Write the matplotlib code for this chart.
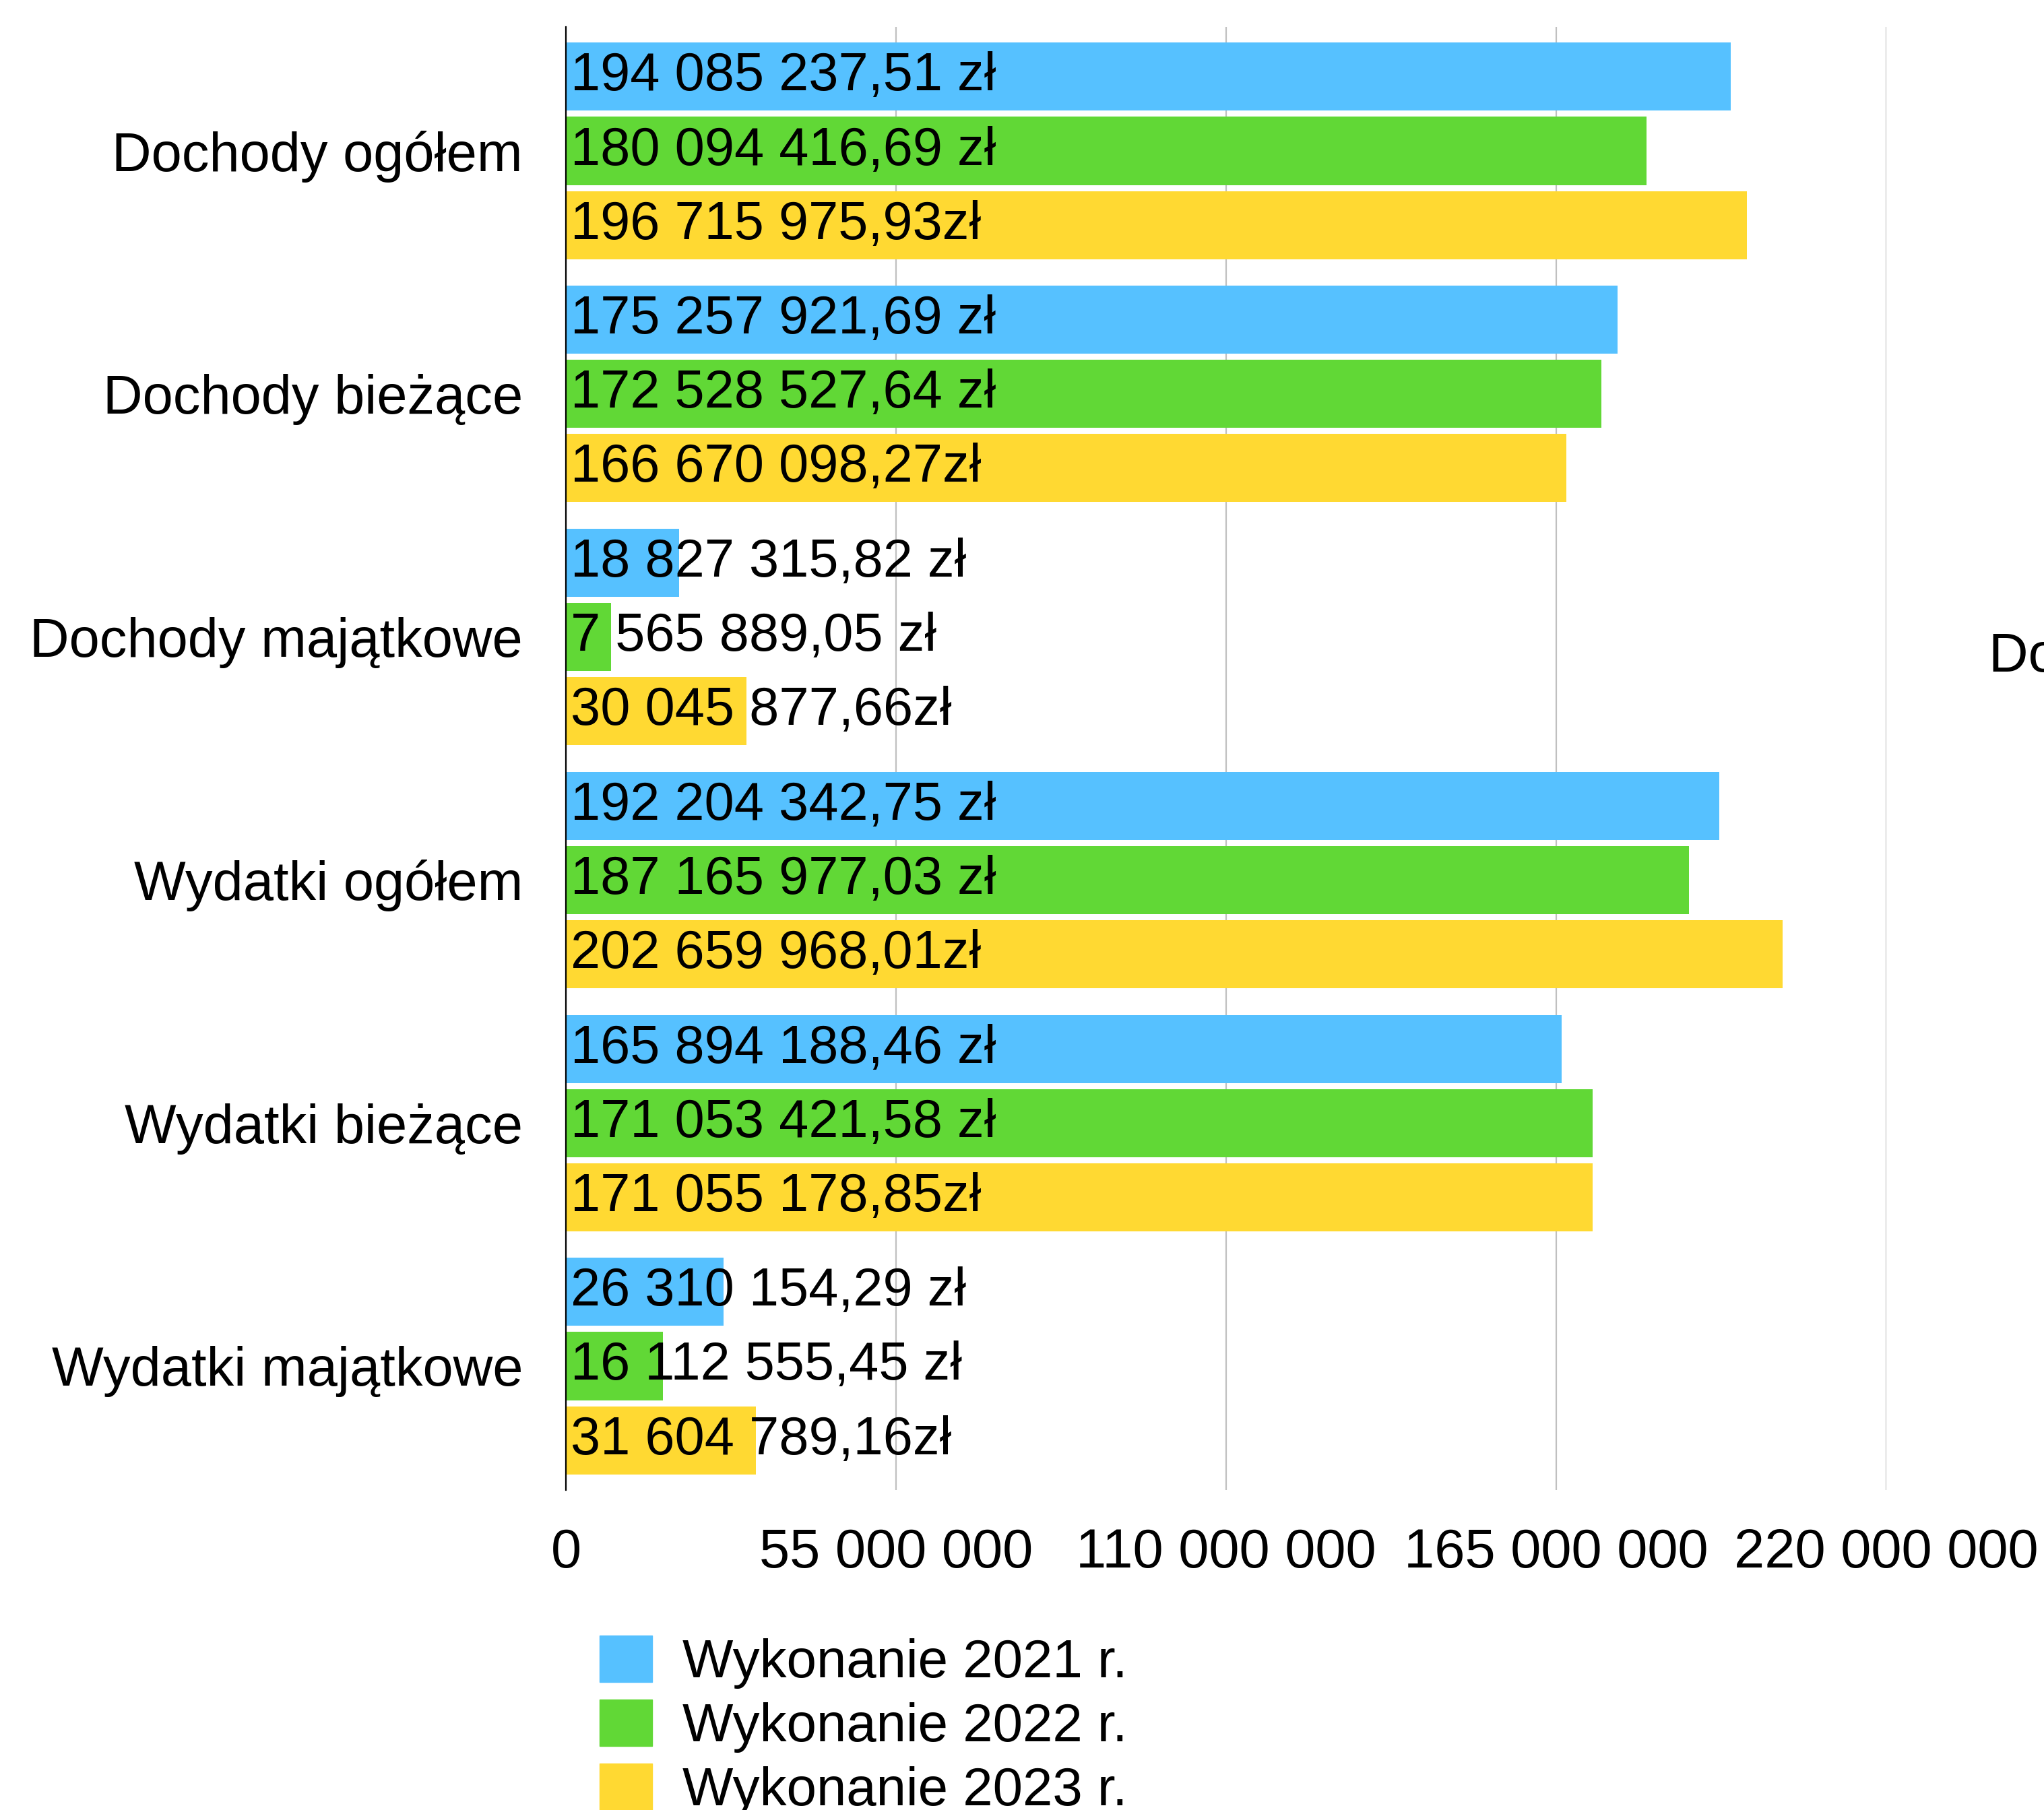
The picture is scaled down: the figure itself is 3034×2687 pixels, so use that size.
import numpy as np
import matplotlib.pyplot as plt
from matplotlib.patches import Patch

plt.rcParams['font.family'] = ['Liberation Sans', 'DejaVu Sans']

categories = ['Dochody ogółem', 'Dochody bieżące', 'Dochody majątkowe',
              'Wydatki ogółem', 'Wydatki bieżące', 'Wydatki majątkowe']
series = ['Wykonanie 2021 r.', 'Wykonanie 2022 r.', 'Wykonanie 2023 r.']
colors = ['#56C1FF', '#61D836', '#FFD932']

v2021 = [194085237.51, 175257921.69, 18827315.82, 192204342.75, 165894188.46, 26310154.29]
v2022 = [180094416.69, 172528527.64, 7565889.05, 187165977.03, 171053421.58, 16112555.45]
v2023 = [196715975.93, 166670098.27, 30045877.66, 202659968.01, 171055178.85, 31604789.16]

l2021 = ['194 085 237,51 zł', '175 257 921,69 zł', '18 827 315,82 zł',
         '192 204 342,75 zł', '165 894 188,46 zł', '26 310 154,29 zł']
l2022 = ['180 094 416,69 zł', '172 528 527,64 zł', '7 565 889,05 zł',
         '187 165 977,03 zł', '171 053 421,58 zł', '16 112 555,45 zł']
l2023 = ['196 715 975,93zł', '166 670 098,27zł', '30 045 877,66zł',
         '202 659 968,01zł', '171 055 178,85zł', '31 604 789,16zł']

ticks = [0, 55e6, 110e6, 165e6, 220e6]
tick_labels = ['0', '55 000 000', '110 000 000', '165 000 000', '220 000 000']

W, H = 3034, 2687
fig = plt.figure(figsize=(W / 100, H / 100), dpi=100)
ax = fig.add_axes([840 / W, 1 - 2212 / H, (2800 - 840) / W, (2212 - 40) / H])

fs_bar = 57.2
fs_ax = 58.5
y = np.arange(len(categories))
pitch = 0.305
height = 0.28
for i, (vals, labs) in enumerate(zip([v2021, v2022, v2023], [l2021, l2022, l2023])):
    pos = y + (i - 1) * pitch
    ax.barh(pos, vals, height=height, color=colors[i], label=series[i], zorder=2)
    for p, t in zip(pos, labs):
        ax.annotate(t, (0, p), xytext=(5, 0), textcoords='offset points',
                    va='center', ha='left', fontsize=fs_bar, zorder=3)

ax.set_xlim(0, 220e6)
ax.set_ylim(len(categories) - 0.49, -0.51)
ax.set_yticks(y)
ax.set_yticklabels(categories, fontsize=fs_ax)
ax.set_xticks(ticks)
ax.set_xticklabels(tick_labels, fontsize=fs_ax)
ax.tick_params(axis='y', length=0, pad=46)
ax.tick_params(axis='x', length=0, pad=40)
ax.grid(axis='x', color='#c0c0c0', linewidth=1.6, zorder=0)
ax.set_axisbelow(True)
for s in ['top', 'right', 'bottom']:
    ax.spines[s].set_visible(False)
ax.spines['left'].set_linewidth(1.6)
ax.spines['left'].set_zorder(4)

handles = [Patch(color=c, label=s) for c, s in zip(colors, series)]
fig.legend(handles=handles, loc='upper left', bbox_to_anchor=(858 / W, 1 - 2396 / H),
           fontsize=57.5, frameon=False, handlelength=0.98, handleheight=0.95,
           handletextpad=0.56, labelspacing=0.2, borderaxespad=0)

# cut-off label of the neighbouring chart
fig.text(2952 / W, 1 - 975 / H, 'Dochody ogółem', fontsize=fs_ax, va='center', ha='left')

fig.savefig('out.png', dpi=100)
